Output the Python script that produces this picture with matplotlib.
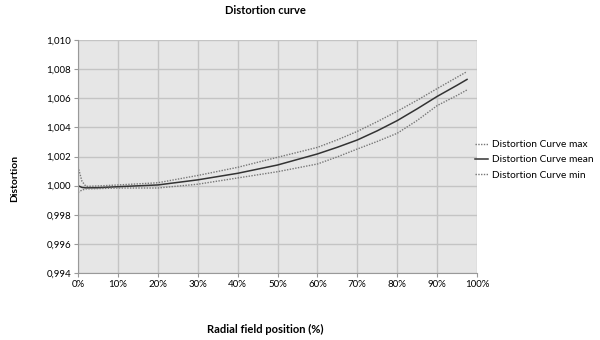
import matplotlib
matplotlib.use("Agg")
from matplotlib import pyplot as plt
from matplotlib.ticker import FuncFormatter, MultipleLocator

plt.rcParams['font.family'] = ['Lato', 'DejaVu Sans']

# Data
position = [0, 1, 2, 5, 10, 20, 30, 40, 50, 60, 65, 70, 75, 80, 85, 90, 95, 97.5]
curve_max = [1.0013, 1.0003, 0.99995, 0.99998, 1.00005, 1.0002, 1.0007, 1.00126,
             1.00195, 1.00263, 1.00315, 1.00373, 1.00440, 1.00511, 1.00587, 1.00667,
             1.00745, 1.00784]
curve_mean = [1.0000, 0.99988, 0.99985, 0.99986, 0.99993, 1.00005, 1.0004, 1.00085,
              1.00142, 1.00218, 1.00264, 1.00314, 1.00377, 1.00447, 1.00528, 1.00613,
              1.00690, 1.00730]
curve_min = [0.99954, 0.9997, 0.99978, 0.9998, 0.99984, 0.99984, 1.0001, 1.00053,
             1.00096, 1.00149, 1.00198, 1.00252, 1.00304, 1.0036, 1.00448, 1.0055,
             1.00620, 1.00658]

fig = plt.figure(figsize=(6, 3.4), dpi=100)
ax = fig.add_axes([0.13, 0.197, 0.665, 0.685])
ax.set_facecolor('#e6e6e6')

ax.plot(position, curve_max, color='#777777', lw=1.0, ls=(0, (1, 1)), label='Distortion Curve max')
ax.plot(position, curve_mean, color='#333333', lw=1.1, label='Distortion Curve mean')
ax.plot(position, curve_min, color='#777777', lw=1.0, ls=(0, (1, 1)), label='Distortion Curve min')

ax.set_xlim(0, 100)
ax.set_ylim(0.994, 1.010)
ax.xaxis.set_major_locator(MultipleLocator(10))
ax.yaxis.set_major_locator(MultipleLocator(0.002))
ax.xaxis.set_major_formatter(FuncFormatter(lambda v, p: f"{v:.0f}%"))
ax.yaxis.set_major_formatter(FuncFormatter(lambda v, p: f"{v:.3f}".replace('.', ',')))
ax.grid(True, color='#c4c4c4', lw=1.0)
ax.set_axisbelow(True)
ax.tick_params(labelsize=7, length=3, color='#999999', pad=2)
for s in ['top', 'right']:
    ax.spines[s].set_visible(False)
for s in ['left', 'bottom']:
    ax.spines[s].set_color('#999999')

fig.text(0.442, 0.968, 'Distortion curve', ha='center', va='center', fontsize=8, fontweight='bold')
fig.text(0.442, 0.03, 'Radial field position (%)', ha='center', va='center', fontsize=8, fontweight='bold')
fig.text(0.024, 0.476, 'Distortion', ha='center', va='center', rotation=90, fontsize=7.5, fontweight='bold')

fig.legend(loc='center left', bbox_to_anchor=(0.785, 0.53), frameon=False, fontsize=7.3,
           handlelength=1.3, handletextpad=0.35, labelspacing=0.6, borderaxespad=0)

fig.savefig('out.png', dpi=100)
